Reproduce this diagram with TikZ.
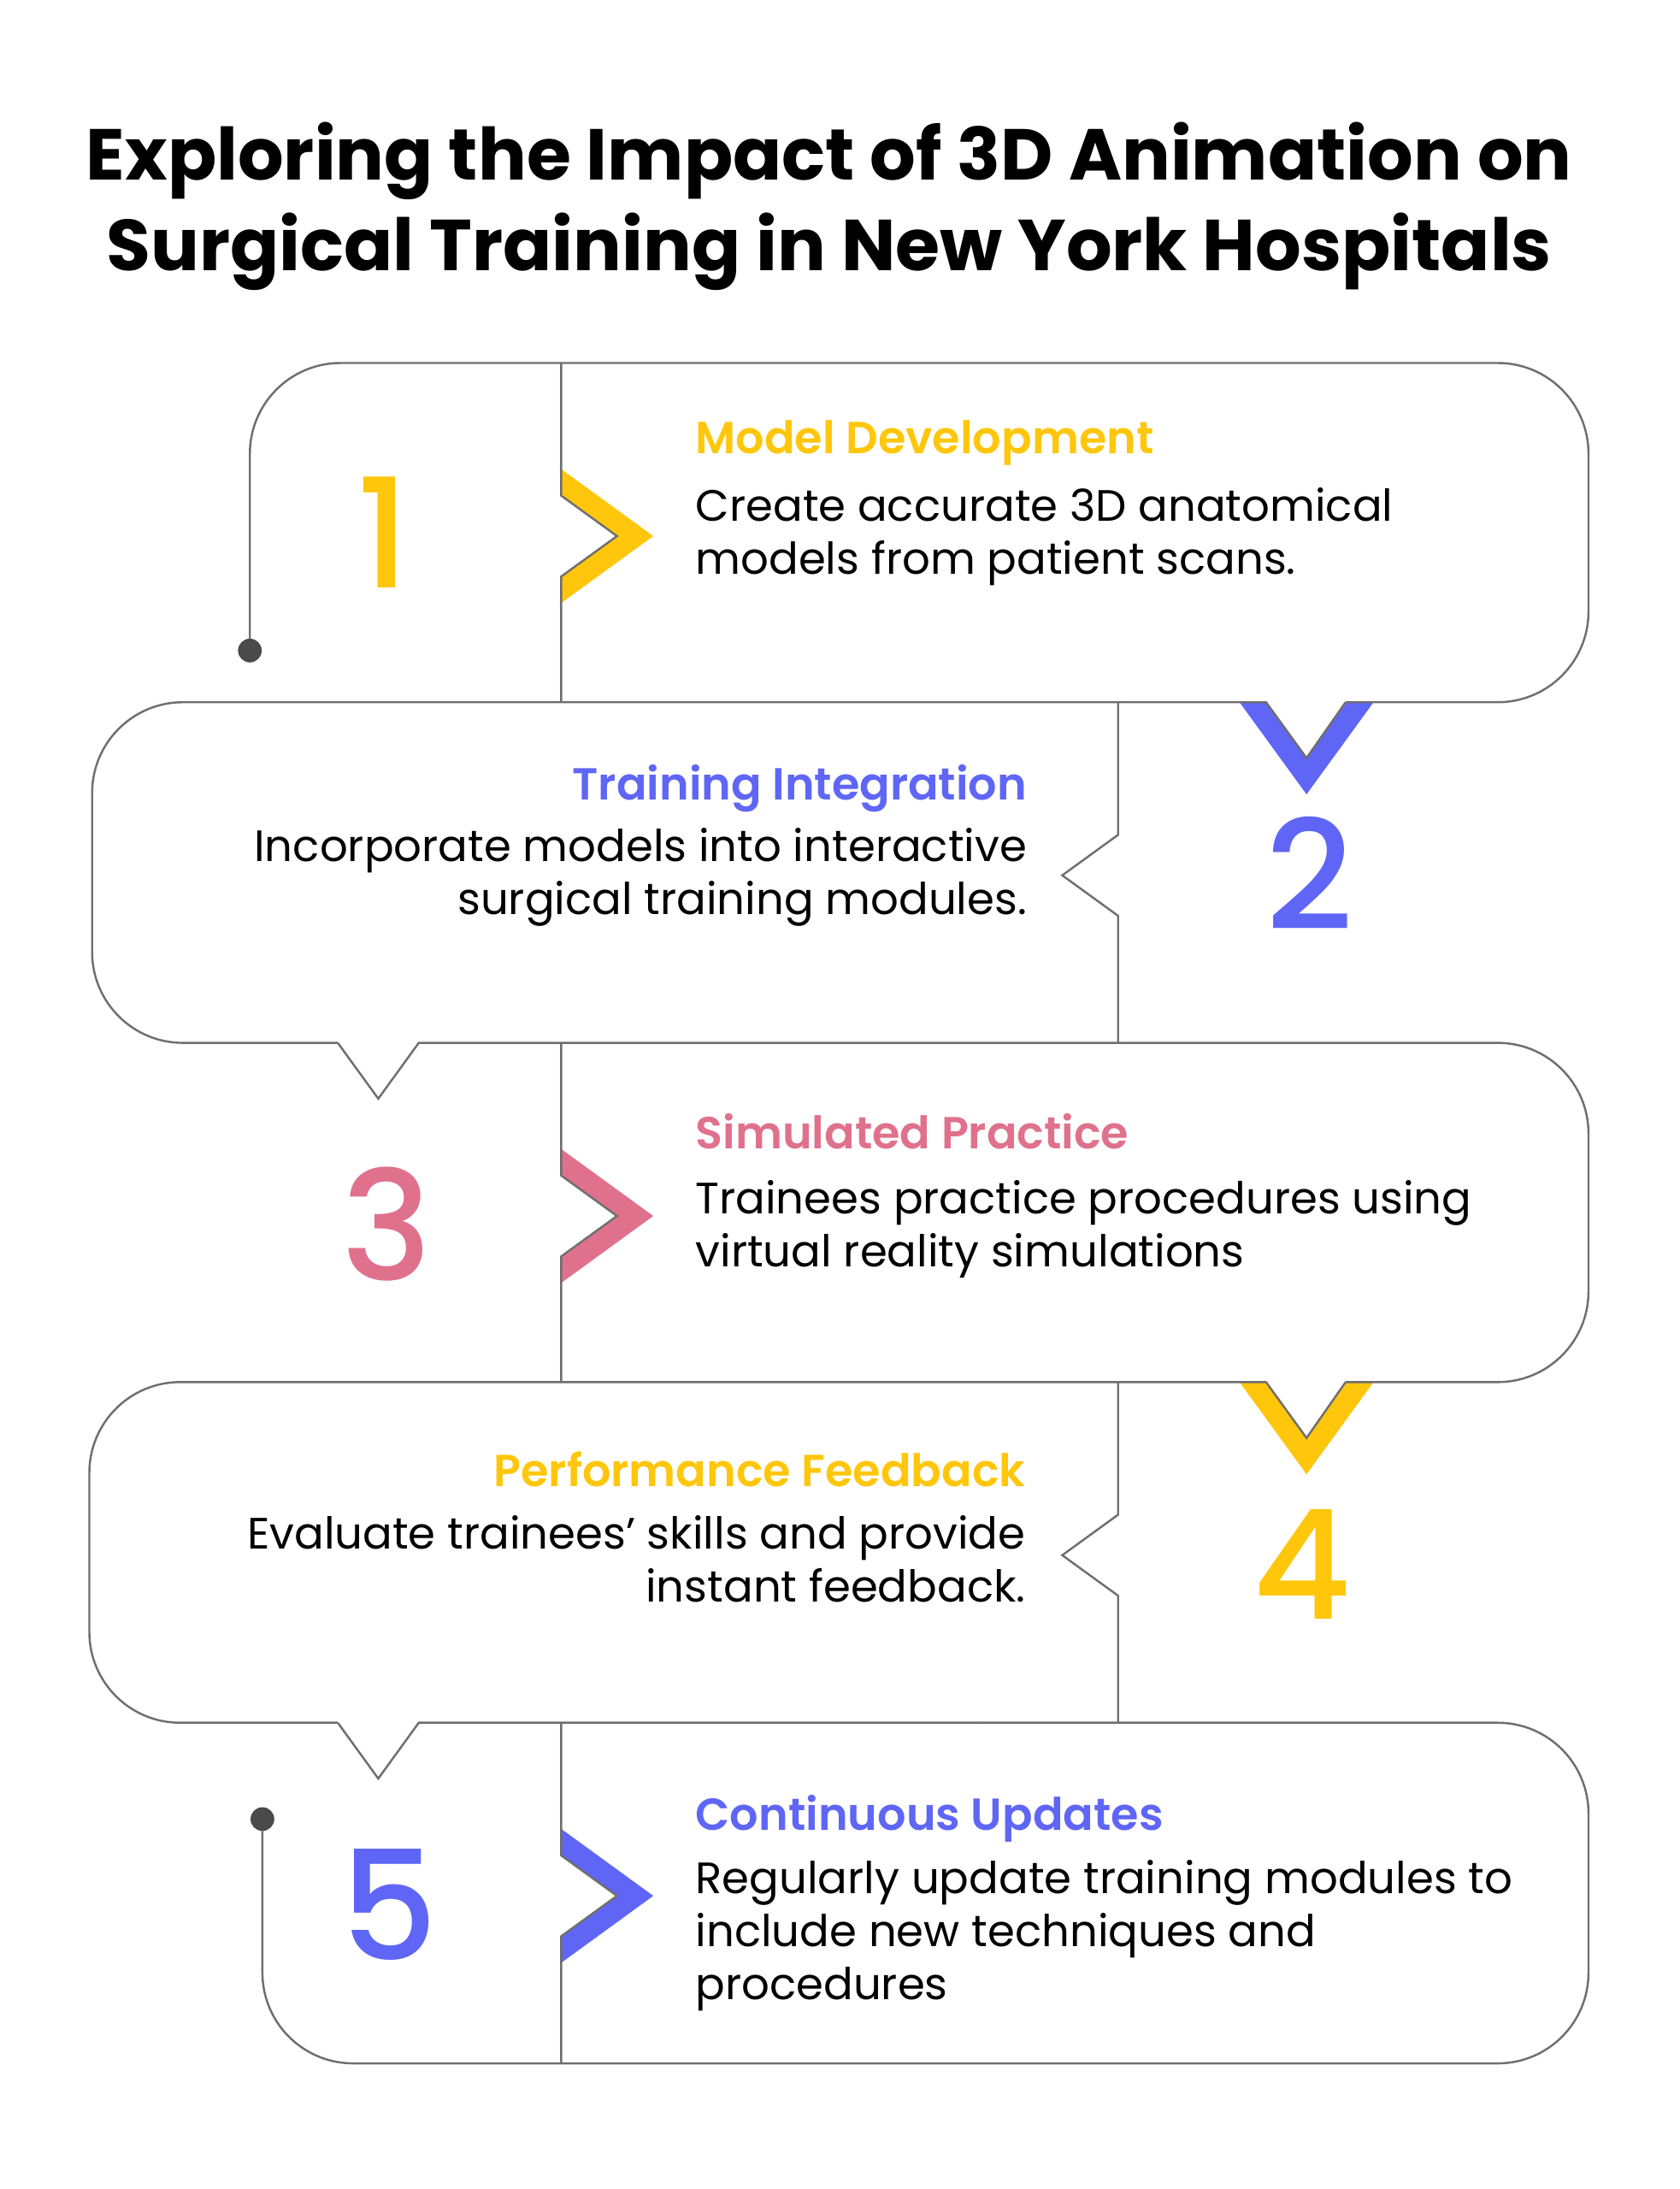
\documentclass[tikz,border=0pt]{standalone}
\usepackage{fontspec}
\setmainfont{Poppins}
\newfontfamily\headfont{Poppins SemiBold}
\newfontfamily\numfont{Poppins Medium}
\usetikzlibrary{positioning}
\definecolor{sunny}{HTML}{FFC60B}
\definecolor{iris}{HTML}{5F66F5}
\definecolor{rose}{HTML}{E0718D}
\definecolor{rulegray}{HTML}{6E6E6E}
\definecolor{pingray}{HTML}{4A4A4A}
\tikzset{
  edge/.style={draw=rulegray, line width=0.85pt, line join=miter},
  roundedge/.style={edge, rounded corners=13mm},
  headl/.style={anchor=base west, inner sep=0pt, font=\headfont\fontsize{18.3}{21}\selectfont},
  headr/.style={anchor=base east, inner sep=0pt, font=\headfont\fontsize{18.3}{21}\selectfont},
  bodyl/.style={anchor=north west, inner sep=0pt, align=left,
                font=\fontsize{17.9}{21.6}\selectfont},
  bodyr/.style={anchor=north east, inner sep=0pt, align=right,
                font=\fontsize{17.9}{21.6}\selectfont},
  digit/.style={anchor=base, inner sep=0pt, font=\numfont\fontsize{62}{62}\selectfont}}
% chevrons: right-pointing at a divider, down-pointing under a line
\newcommand{\chevright}[3]{\fill[#3] (#1,#2) ++(0,-48) -- ++(66,48) -- ++(-66,48)
  -- ++(0,-19) -- ++(40,-29) -- ++(-40,-29) -- cycle;}
\newcommand{\chevdown}[3]{\fill[#3] (#1,#2) ++(-48,0) -- ++(48,66) -- ++(48,-66)
  -- ++(-19,0) -- ++(-29,40) -- ++(-29,-40) -- cycle;}

\begin{document}
\begin{tikzpicture}[x=0.2mm, y=-0.2mm]
  \useasboundingbox (0,0) rectangle (1203,1568);

  \node[align=center, inner sep=0pt, anchor=north,
        font=\bfseries\fontsize{29.4}{37}\selectfont] (title) at (594,87)
    {Exploring the Impact of 3D Animation on\\Surgical Training in New York Hospitals};

  % coloured chevrons
  \chevright{402}{384}{sunny}
  \chevdown{936}{503}{iris}
  \chevright{402}{871}{rose}
  \chevdown{936}{990}{sunny}
  \chevright{402}{1358}{iris}

  % the snake outline, piece by piece
  \draw[roundedge] (179,466) -- (179,260) -- (1138,260) -- (1138,503) -- (964,503);
  \draw[edge] (964,503) -- (936,543) -- (907,503) -- (700,503);
  \draw[roundedge] (700,503) -- (66,503) -- (66,747) -- (242,747);
  \draw[edge] (242,747) -- (271,787) -- (300,747) -- (700,747);
  \draw[roundedge] (700,747) -- (1138,747) -- (1138,990) -- (964,990);
  \draw[edge] (964,990) -- (936,1030) -- (907,990) -- (700,990);
  \draw[roundedge] (700,990) -- (64,990) -- (64,1234) -- (242,1234);
  \draw[edge] (242,1234) -- (271,1274) -- (300,1234) -- (700,1234);
  \draw[roundedge] (700,1234) -- (1138,1234) -- (1138,1478) -- (188,1478) -- (188,1303);

  % dividers
  \draw[edge] (402,260) -- (402,355) -- (442,384) -- (402,413) -- (402,503);
  \draw[edge] (801,503) -- (801,598) -- (761,627) -- (801,656) -- (801,747);
  \draw[edge] (402,747) -- (402,842) -- (442,871) -- (402,900) -- (402,990);
  \draw[edge] (801,990) -- (801,1085) -- (761,1114) -- (801,1143) -- (801,1234);
  \draw[edge] (402,1234) -- (402,1329) -- (442,1358) -- (402,1387) -- (402,1478);

  % end dots
  \coordinate (start) at (179,466);
  \coordinate (finish) at (188,1303);
  \fill[pingray] (start) circle (8.5);
  \fill[pingray] (finish) circle (8.5);

  % numbers
  \node[digit, text=sunny] (n1) at (275,421) {1};
  \node[digit, text=iris]  (n2) at (938,666) {2};
  \node[digit, text=rose]  (n3) at (277,917) {3};
  \node[digit, text=sunny] (n4) at (933,1160) {4};
  \node[digit, text=iris]  (n5) at (279,1404) {5};

  % texts
  \node[headl, text=sunny] (h1) at (498,325) {Model Development};
  \node[bodyl] (b1) at (498,349) {Create accurate 3D anatomical\\models from patient scans.};

  \node[headr, text=iris] (h2) at (736,573) {Training Integration};
  \node[bodyr] (b2) at (736,593) {Incorporate models into interactive\\surgical training modules.};

  \node[headl, text=rose] (h3) at (498,823) {Simulated Practice};
  \node[bodyl] (b3) at (498,845) {Trainees practice procedures using\\virtual reality simulations};

  \node[headr, text=sunny] (h4) at (735,1065) {Performance Feedback};
  \node[bodyr] (b4) at (735,1085) {Evaluate trainees’ skills and provide\\instant feedback.};

  \node[headl, text=iris] (h5) at (498,1311) {Continuous Updates};
  \node[bodyl] (b5) at (498,1332) {Regularly update training modules to\\include new techniques and\\procedures};
\end{tikzpicture}
\end{document}
